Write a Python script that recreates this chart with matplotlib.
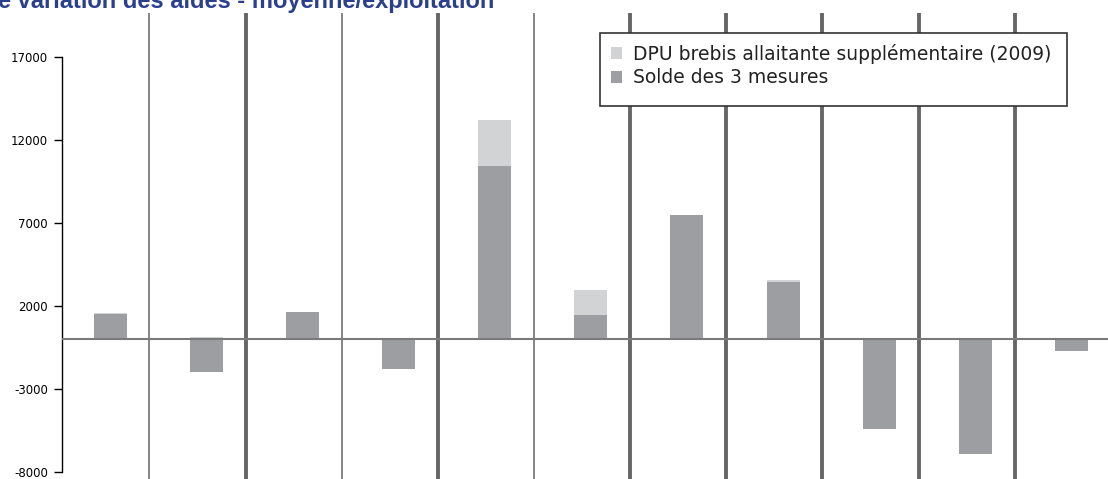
import numpy as np
import matplotlib
matplotlib.use("Agg")
from matplotlib import pyplot as plt
from matplotlib.patches import Rectangle

# solde des 3 mesures and DPU brebis allaitante supplementaire (2009), per exploitation
solde = [1500, -1970, 1630, -1800, 10450, 1460, 7500, 3450, -5420, -6890, -680]
dpu = [60, 130, 0, 0, 2750, 1510, 0, 120, 0, 0, 0]
yticks = [-8000, -3000, 2000, 7000, 12000, 17000]
thick_sep = [False, True, False, True, False, True, True, True, True, True]

dark = '#9c9ea2'
light = '#d2d3d5'

W, H = 1108, 479
fig = plt.figure(figsize=(W / 100, H / 100), dpi=100)
ax = fig.add_axes([62 / W, 0, 1 - 62 / W, (H - 13) / H])

x = np.arange(len(solde))
base = [max(s, 0) for s in solde]
b1 = ax.bar(x, solde, width=0.343, color=dark, zorder=2, label='Solde des 3 mesures')
b2 = ax.bar(x, dpu, width=0.343, bottom=base, color=light, zorder=2,
            label='DPU brebis allaitante supplémentaire (2009)')

# separators between exploitations
for i, thick in enumerate(thick_sep):
    ax.axvline(i + 0.41, color='#666666' if thick else '#858585',
               lw=2.8 if thick else 1.4, zorder=3)
ax.axhline(0, color='#7a7a7a', lw=1.5, zorder=4)

ax.set_xlim(-0.5, 10.38)
ax.set_ylim(-8403, 19630)
ax.set_xticks([])
ax.set_yticks(yticks)
ax.set_yticklabels([str(t) for t in yticks], fontsize=8.5, family='DejaVu Sans')
ax.tick_params(axis='y', direction='out', length=6, width=1, pad=4, color='black')
for s in ['top', 'right', 'bottom']:
    ax.spines[s].set_visible(False)
ax.spines['left'].set_bounds(-8000, 17000)
ax.spines['left'].set_linewidth(1)

# legend box
fig.patches.append(Rectangle((600 / W, 1 - 106 / H), 467 / W, 73 / H,
                             transform=fig.transFigure, facecolor='white',
                             edgecolor='#333333', lw=1.2, zorder=5))
leg = fig.legend([b2, b1], [b2.get_label(), b1.get_label()],
                 loc='upper left', bbox_to_anchor=(603 / W, 1 - 36 / H),
                 frameon=False, handlelength=0.6, handleheight=0.6,
                 handletextpad=0.6, labelspacing=0.25, borderaxespad=0,
                 prop={'family': 'DejaVu Sans', 'size': 13.5})
for t in leg.get_texts():
    t.set_color('#222222')
leg.set_zorder(6)

fig.text(-2 / W, 1 - 8 / H, 'e variation des aides - moyenne/exploitation',
         color='#2b3f8f', fontsize=17, fontweight='bold', family='Liberation Sans',
         va='baseline', ha='left')

fig.savefig('out.png', dpi=100)
